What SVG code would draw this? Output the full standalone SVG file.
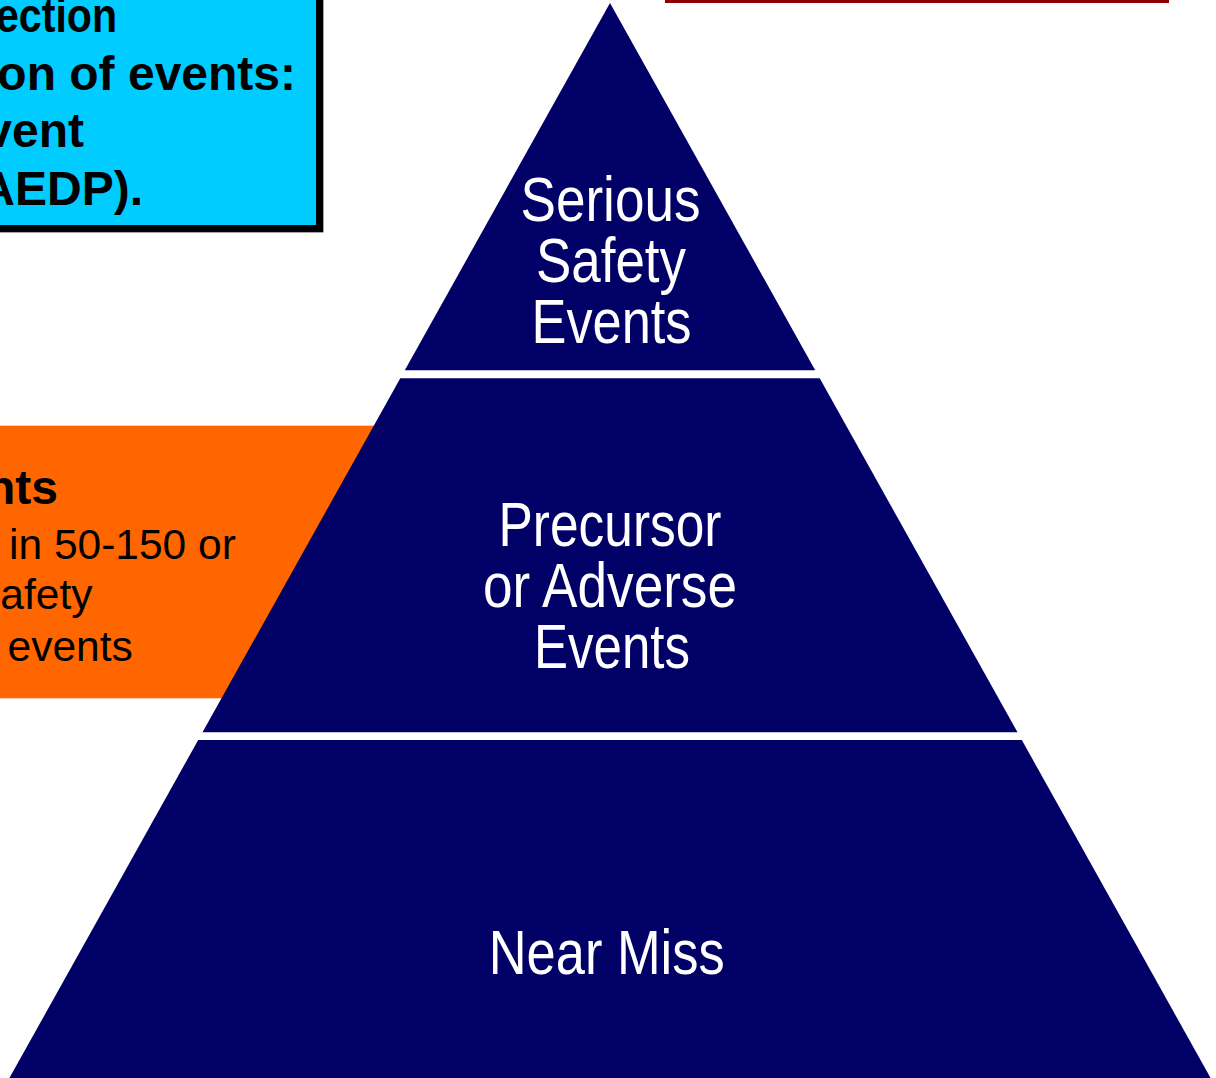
<svg xmlns="http://www.w3.org/2000/svg" width="1216" height="1078" viewBox="0 0 1216 1078">
  <style>
    .tier { fill: #000066; }
    .tier-label { font-family: "Liberation Sans", Arial, sans-serif; font-size: 63px; fill: #ffffff; text-anchor: middle; }
    .box-bold { font-family: "Liberation Sans", Arial, sans-serif; font-weight: bold; font-size: 48px; fill: #000000; }
    .box-reg { font-family: "Liberation Sans", Arial, sans-serif; font-size: 42.5px; fill: #000000; }
  </style>
  <rect x="0" y="0" width="1216" height="1078" fill="#ffffff"/>

  <g id="box-orange">
    <rect x="-10" y="425.7" width="420" height="272.6" fill="#FF6600"/>
    <text class="box-bold" x="58" y="503.5" text-anchor="end">nts</text>
    <text class="box-reg" x="9" y="559">in 50-150 or</text>
    <text class="box-reg" x="92.5" y="608.5" text-anchor="end">afety</text>
    <text class="box-reg" x="7.5" y="660.5">events</text>
  </g>

  <g id="box-blue">
    <rect x="-20" y="-20" width="339.7" height="248.7" fill="#00CCFF" stroke="#000000" stroke-width="7.3"/>
    <text class="box-bold" x="117" y="32" text-anchor="end" textLength="121" lengthAdjust="spacingAndGlyphs">ection</text>
    <text class="box-bold" x="296" y="89.5" text-anchor="end">on of events:</text>
    <text class="box-bold" x="84" y="147" text-anchor="end">vent</text>
    <text class="box-bold" x="143" y="204.5" text-anchor="end">AEDP).</text>
  </g>

  <g id="bar-red">
    <rect x="665" y="0" width="504" height="3" fill="#8B0000"/>
  </g>

  <g id="tier-top">
    <polygon class="tier" points="610,3 404.8,370.3 815.2,370.3"/>
    <text class="tier-label" x="610.5" y="221" textLength="180" lengthAdjust="spacingAndGlyphs">Serious</text>
    <text class="tier-label" x="611" y="282" textLength="150" lengthAdjust="spacingAndGlyphs">Safety</text>
    <text class="tier-label" x="611.5" y="343" textLength="160" lengthAdjust="spacingAndGlyphs">Events</text>
  </g>

  <g id="tier-middle">
    <polygon class="tier" points="400.3,378.3 819.7,378.3 1017.5,732.3 202.5,732.3"/>
    <text class="tier-label" x="610" y="546" textLength="223" lengthAdjust="spacingAndGlyphs">Precursor</text>
    <text class="tier-label" x="610" y="607" textLength="254" lengthAdjust="spacingAndGlyphs">or Adverse</text>
    <text class="tier-label" x="612" y="668" textLength="156" lengthAdjust="spacingAndGlyphs">Events</text>
  </g>

  <g id="tier-bottom">
    <polygon class="tier" points="198.2,740 1021.8,740 1211.7,1080 8.3,1080"/>
    <text class="tier-label" x="606.7" y="973.5" textLength="236" lengthAdjust="spacingAndGlyphs">Near Miss</text>
  </g>

  <g id="connectors"></g>
</svg>
